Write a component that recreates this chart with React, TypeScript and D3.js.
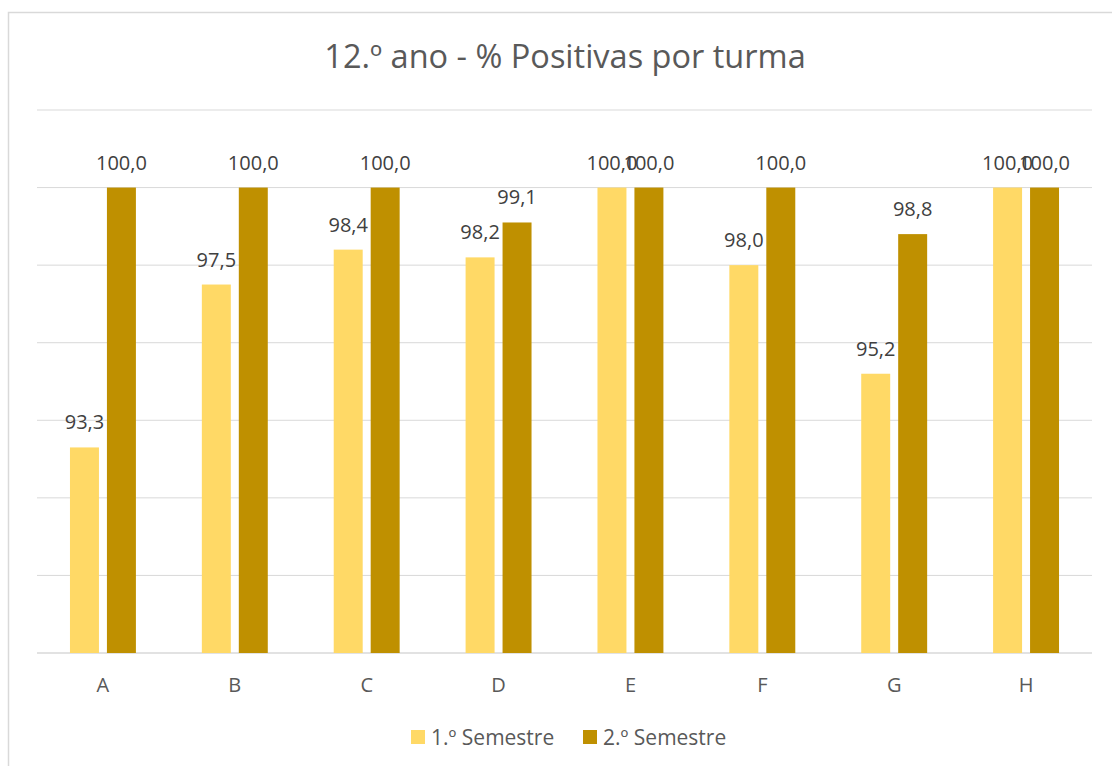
import React from 'react'
import * as d3 from 'd3'

const categories = ['A', 'B', 'C', 'D', 'E', 'F', 'G', 'H']
const seriesNames = ['1.º Semestre', '2.º Semestre']
const sem1 = [93.3, 97.5, 98.4, 98.2, 100.0, 98.0, 95.2, 100.0]
const sem2 = [100.0, 100.0, 100.0, 99.1, 100.0, 100.0, 98.8, 100.0]
const yTicks = [88, 90, 92, 94, 96, 98, 100, 102]
const colors = ['#FFD966', '#BF9000']

const ptLocale = d3.formatLocale({ decimal: ',', thousands: '.', grouping: [3], currency: ['', '€'] })
const fmt = ptLocale.format('.1f')

const FONT = '"Open Sans", "Noto Sans", sans-serif'

const App = () => {
  const width = 1112
  const height = 766
  const left = 37
  const right = 1092

  const x = d3.scaleBand<string>().domain(categories).range([left, right])
  const step = x.bandwidth()
  const inner = d3
    .scaleBand<number>()
    .domain([0, 1])
    .range([step * 0.25, step * 0.75])
    .paddingInner(0.216)
  const y = d3.scaleLinear().domain([88, 102]).range([653, 110])

  const series = [sem1, sem2]

  return (
    <svg
      width={width}
      height={height}
      style={{ position: 'absolute', left: 0, top: 0, background: '#fff' }}
      fontFamily={FONT}
    >
      <rect x={8.5} y={12.5} width={1120} height={780} fill="#fff" stroke="#D9D9D9" strokeWidth={1.5} />
      <text x={565} y={68} textAnchor="middle" fontSize={32.5} fill="#595959">
        12.º ano - % Positivas por turma
      </text>

      {yTicks.map(t => (
        <line key={t} x1={left} x2={right} y1={y(t)} y2={y(t)} stroke="#D9D9D9" strokeWidth={t === 88 ? 1.5 : 1} />
      ))}

      {categories.map((c, i) => (
        <g key={c}>
          {series.map((s, k) => {
            const bx = (x(c) as number) + (inner(k) as number)
            const bw = inner.bandwidth()
            return (
              <g key={k}>
                <rect x={bx} y={y(s[i])} width={bw} height={y(88) - y(s[i])} fill={colors[k]} />
                <text
                  x={bx + bw / 2}
                  y={y(s[i]) - 18}
                  textAnchor="middle"
                  fontSize={20}
                  fill="#404040"
                >
                  {fmt(s[i])}
                </text>
              </g>
            )
          })}
          <text x={(x(c) as number) + step / 2} y={692} textAnchor="middle" fontSize={20} fill="#595959">
            {c}
          </text>
        </g>
      ))}

      {seriesNames.map((n, k) => (
        <g key={n} transform={`translate(${k === 0 ? 411 : 583},730)`}>
          <rect width={14} height={14} fill={colors[k]} />
          <text x={20} y={14.5} fontSize={21} fill="#595959">
            {n}
          </text>
        </g>
      ))}
    </svg>
  )
}

export default App
